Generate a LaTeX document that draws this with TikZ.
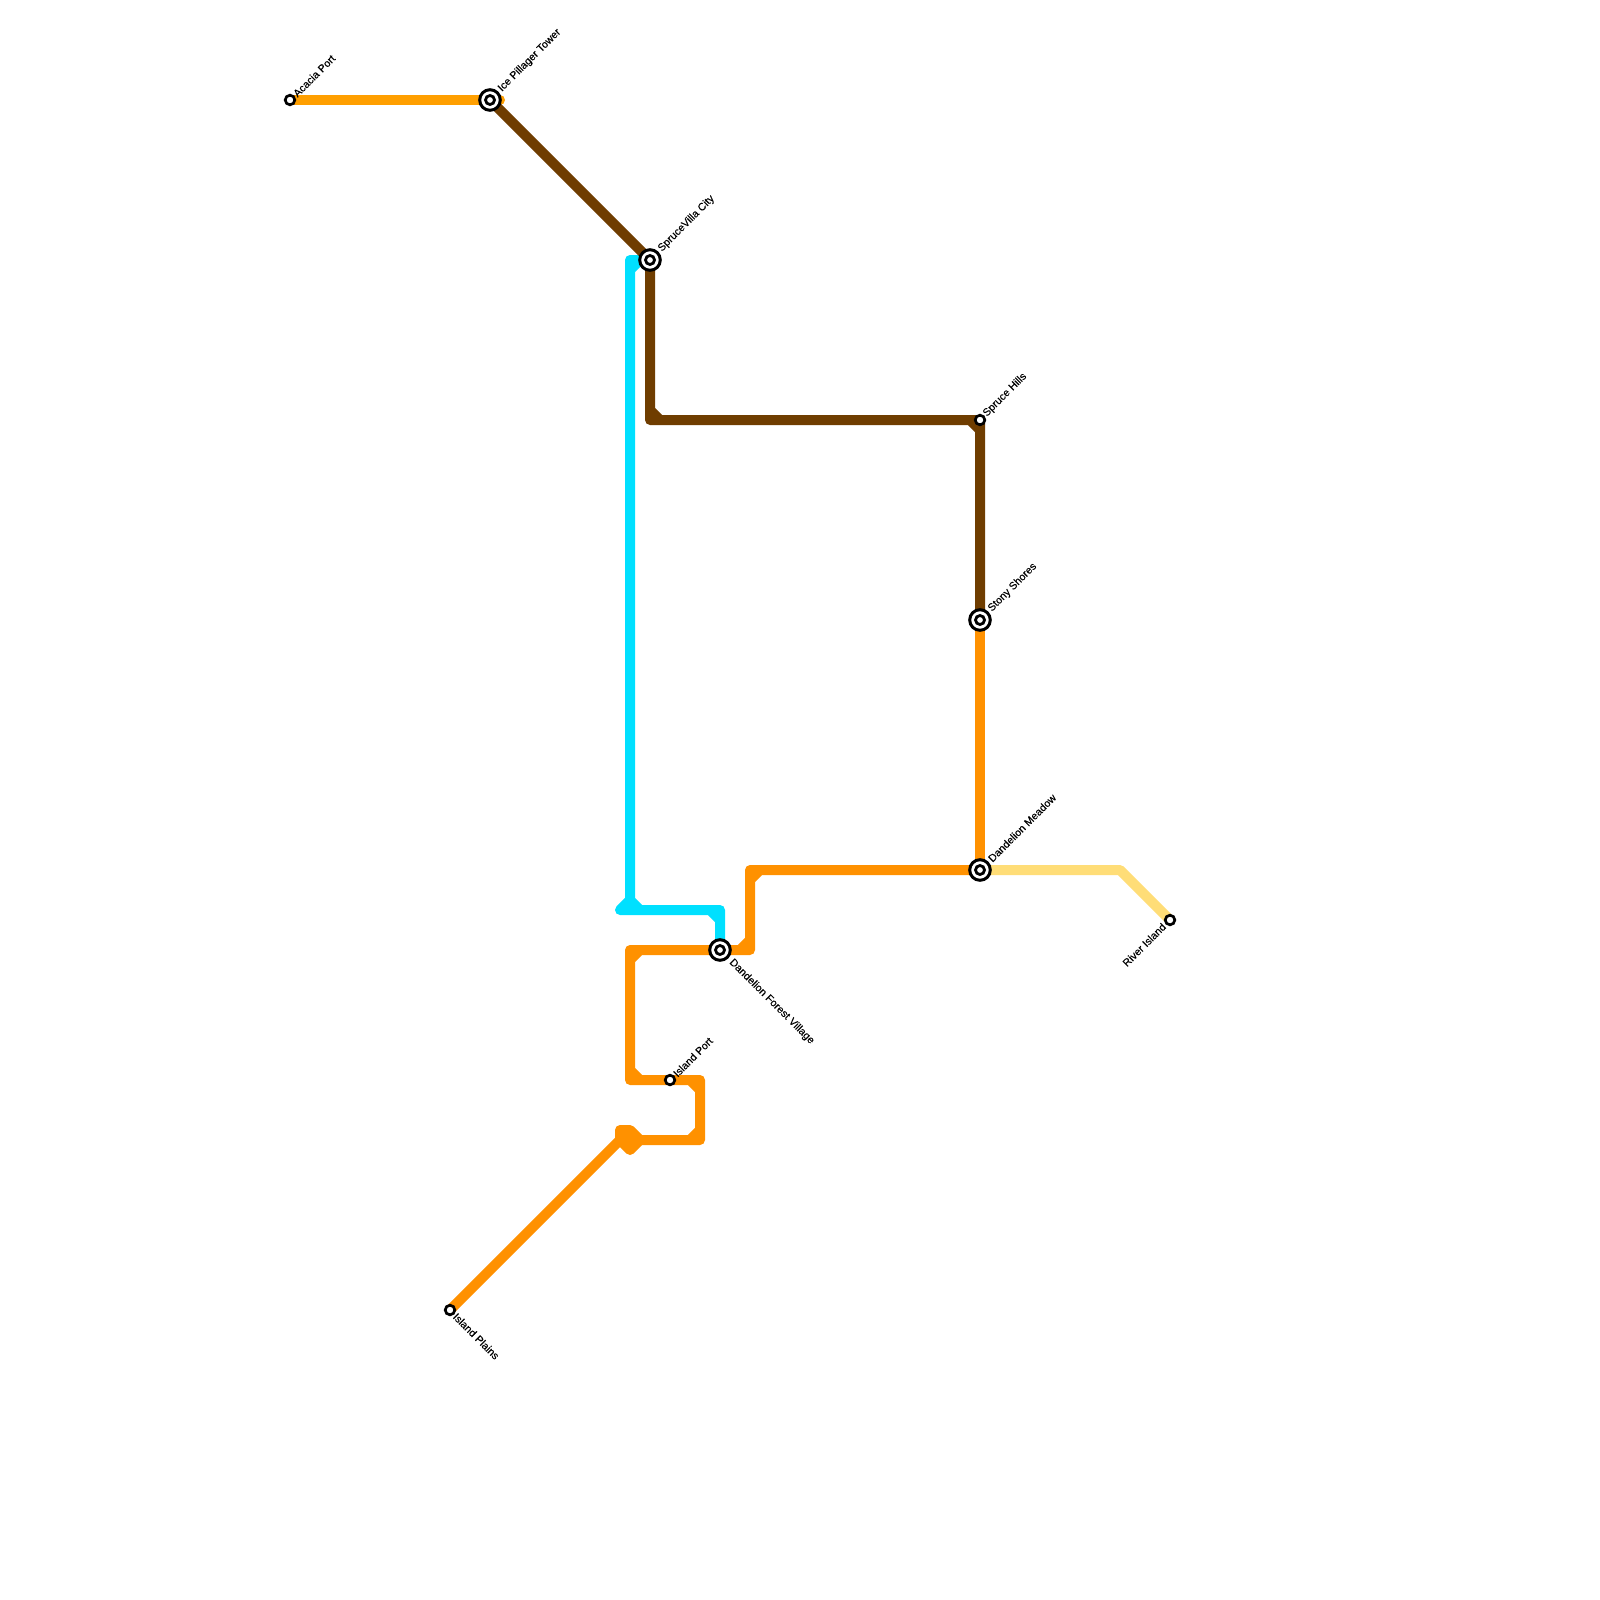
\documentclass[tikz,border=0pt]{standalone}
\usepackage{fontspec}
\setmainfont{Liberation Sans}[UprightFeatures={FakeBold=0.15}]
\usetikzlibrary{backgrounds}
\definecolor{amberline}{HTML}{FF9F00}
\definecolor{orangeline}{HTML}{FF9100}
\definecolor{cyanline}{HTML}{00E0FF}
\definecolor{brownline}{HTML}{6F3D00}
\definecolor{sandline}{HTML}{FFDD77}
\tikzset{
  ln/.style={line width=10pt,line cap=round,line join=round},
  halt/.style={circle,draw=black,fill=white,line width=2.7pt,minimum size=9.6pt,inner sep=0pt,outer sep=0pt},
  hub/.style={circle,draw=black,fill=white,line width=3pt,minimum size=20.6pt,inner sep=0pt,outer sep=0pt},
  hubdot/.style={circle,draw=black,fill=white,line width=2.8pt,minimum size=9pt,inner sep=0pt,outer sep=0pt},
  lbl/.style={font=\fontsize{10.6}{11}\selectfont,text=black,inner sep=0pt,outer sep=0pt},
  up/.style={lbl,rotate=45,anchor=west},
  down/.style={lbl,rotate=-45,anchor=west},
  upend/.style={lbl,rotate=45,anchor=east}
}
\begin{document}
\begin{tikzpicture}[x=1pt,y=-1pt]
\useasboundingbox (0,0) rectangle (1600,1600);
% stations
\node[halt] (acacia) at (290,100) {};
\node[hub] (ice) at (490,100) {}; \node[hubdot] (iced) at (490,100) {};
\node[hub] (villa) at (650,260) {}; \node[hubdot] (villad) at (650,260) {};
\node[halt] (hills) at (980,420) {};
\node[hub] (stony) at (980,620) {}; \node[hubdot] (stonyd) at (980,620) {};
\node[hub] (meadow) at (980,870) {}; \node[hubdot] (meadowd) at (980,870) {};
\node[halt] (river) at (1170,920) {};
\node[hub] (forest) at (720,950) {}; \node[hubdot] (forestd) at (720,950) {};
\node[halt] (port) at (670,1080) {};
\node[halt] (plains) at (450,1310) {};
% bends
\coordinate (iceEnd) at (500,100);
\coordinate (cTop) at (630,260);
\coordinate (cFoot) at (630,910);
\coordinate (cLeft) at (620,910);
\coordinate (cRight) at (720,910);
\coordinate (oA) at (630,950);
\coordinate (oB) at (630,1080);
\coordinate (oC) at (700,1080);
\coordinate (oD) at (700,1140);
\coordinate (oE) at (640,1140);
\coordinate (oF) at (630,1150);
\coordinate (oG) at (620,1140);
\coordinate (oH) at (620,1130);
\coordinate (oI) at (630,1130);
\coordinate (oJ) at (750,950);
\coordinate (oK) at (750,870);
\coordinate (bA) at (650,420);
\coordinate (bB) at (980,420);
\coordinate (sA) at (1120,870);
\begin{scope}[on background layer]
\fill[white] (0,0) rectangle (1600,1600);
\draw[ln,amberline] (acacia.center) -- (iceEnd);
\draw[ln,cyanline] (villa.center) -- (cTop) -- (cFoot) -- (cLeft) -- (cRight) -- (forest.center)
  (cTop) +(0,10) -- +(10,0)
  (cFoot) +(0,-10) -- +(10,0)
  (cFoot) +(0,-10) -- +(-10,0)
  (cRight) +(0,10) -- +(-10,0);
\draw[ln,orangeline] (forest.center) -- (oA) -- (oB) -- (oC) -- (oD) -- (oE)
  (oA) +(0,10) -- +(10,0)
  (oB) +(0,-10) -- +(10,0)
  (oC) +(0,10) -- +(-10,0)
  (oD) +(0,-10) -- +(-10,0);
\draw[ln,orangeline,fill=orangeline] (oE) -- (oF) -- (oG) -- (oH) -- (oI) -- cycle;
\draw[ln,orangeline] (oG) -- (plains.center);
\draw[ln,orangeline] (forest.center) -- (oJ) -- (oK) -- (meadow.center)
  (oJ) +(-10,0) -- +(0,-10)
  (oK) +(0,10) -- +(10,0);
\draw[ln,orangeline] (stony.center) -- (meadow.center);
\draw[ln,brownline] (ice.center) -- (villa.center) -- (bA) -- (hills.center) -- (stony.center)
  (bA) +(0,-10) -- +(10,0)
  (bB) +(-10,0) -- +(0,10);
\draw[ln,sandline] (meadow.center) -- (sA) -- (river.center);
\end{scope}
% labels
\node[up] (acaciaL) at (295,95) {Acacia Port};
\node[up] (iceL) at (500,90) {Ice Pillager Tower};
\node[up] (villaL) at (660,250) {SpruceVilla City};
\node[up] (hillsL) at (985,415) {Spruce Hills};
\node[up] (stonyL) at (990,610) {Stony Shores};
\node[up] (meadowL) at (990,860) {Dandelion Meadow};
\node[upend] (riverL) at (1164,925) {River Island};
\node[down] (forestL) at (731,961) {Dandelion Forest Village};
\node[up] (portL) at (675,1075) {Island Port};
\node[down] (plainsL) at (455,1315) {Island Plains};
\end{tikzpicture}
\end{document}
